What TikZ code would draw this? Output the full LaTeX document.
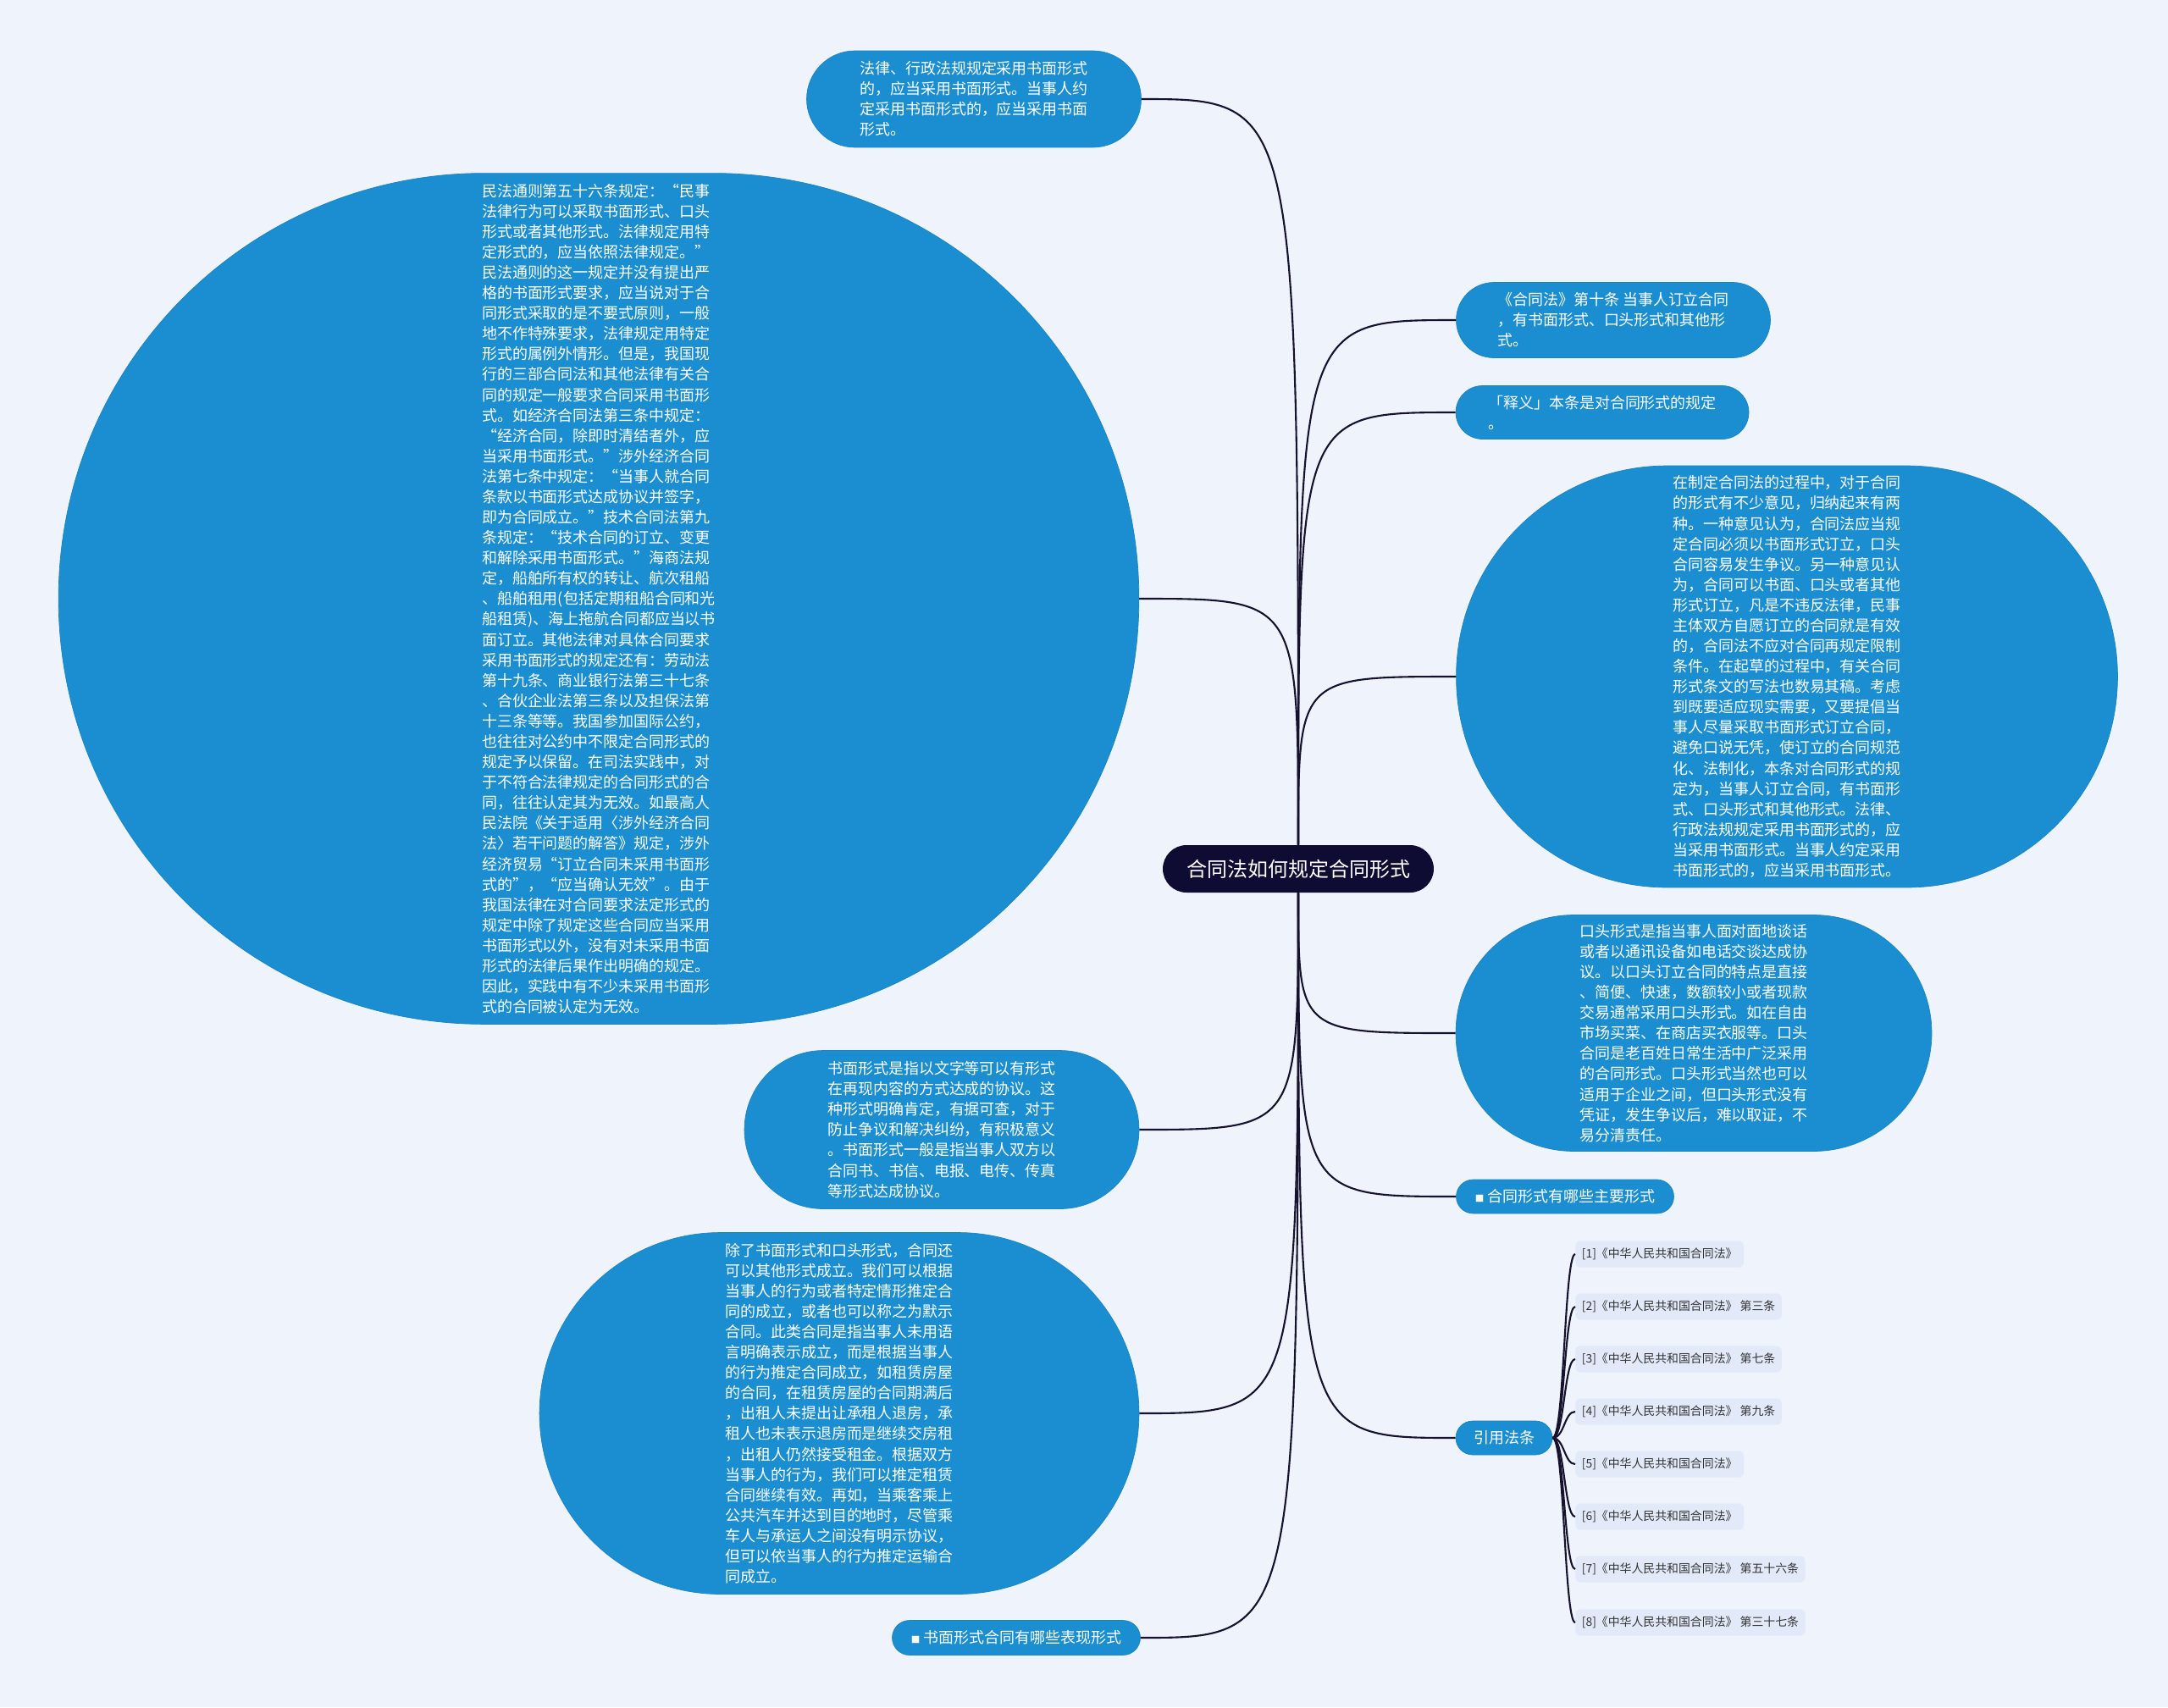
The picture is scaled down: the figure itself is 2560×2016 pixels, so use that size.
\documentclass[tikz,border=0pt]{standalone}
\usepackage{fontspec}
\newfontfamily\cjk{Noto Sans CJK SC}
\definecolor{bgblue}{HTML}{EEF3FC}
\definecolor{topicblue}{HTML}{1B8ED1}
\definecolor{topicedge}{HTML}{1A84C4}
\definecolor{rootnavy}{HTML}{0F0C33}
\definecolor{linkdark}{HTML}{16122E}
\definecolor{citefill}{HTML}{E2EAF9}
\definecolor{citetext}{HTML}{333333}

\begin{document}
\begin{tikzpicture}[x=0.02cm, y=-0.02cm,
    topic/.style={draw=topicedge, fill=topicblue, text=white, align=left, inner sep=0pt,
      font=\cjk\fontsize{10.24pt}{13.71pt}\selectfont},
    pill/.style={rounded corners=#1},
    link/.style={draw=linkdark, line width=1.2pt},
    cite/.style={fill=citefill, text=citetext, anchor=west, rounded corners=0.1cm,
      inner xsep=0.15cm, inner ysep=0pt, minimum height=0.62cm,
      font=\cjk\fontsize{7.9pt}{9pt}\selectfont}]

    % Page background
    \useasboundingbox (0,0) rectangle (2560,2016);
    \fill[bgblue] (0,0) rectangle (2560,2016);

    % Central topic
    \node[fill=rootnavy, text=white, minimum width=6.4cm, minimum height=1.12cm, pill=0.56cm,
          font=\cjk\fontsize{13.66pt}{16pt}\selectfont] (root) at (1533,1026) {合同法如何规定合同形式};

    % Left side, top: statutory written form
    \node[topic, minimum width=7.9cm, minimum height=2.28cm, pill=1.14cm] (law) at (1150,117)
        {法律、行政法规规定采用书面形式\\的，应当采用书面形式。当事人约\\定采用书面形式的，应当采用书面\\形式。};

    % Left side: the long commentary on the civil law rule
    \node[topic, minimum width=25.52cm, minimum height=20.1cm, pill=10.05cm] (civil) at (707,707)
        {民法通则第五十六条规定：“民事\\法律行为可以采取书面形式、口头\\形式或者其他形式。法律规定用特\\定形式的，应当依照法律规定。”\\民法通则的这一规定并没有提出严\\格的书面形式要求，应当说对于合\\同形式采取的是不要式原则，一般\\地不作特殊要求，法律规定用特定\\形式的属例外情形。但是，我国现\\行的三部合同法和其他法律有关合\\同的规定一般要求合同采用书面形\\式。如经济合同法第三条中规定：\\“经济合同，除即时清结者外，应\\当采用书面形式。”涉外经济合同\\法第七条中规定：“当事人就合同\\条款以书面形式达成协议并签字，\\即为合同成立。”技术合同法第九\\条规定：“技术合同的订立、变更\\和解除采用书面形式。”海商法规\\定，船舶所有权的转让、航次租船\\、船舶租用(包括定期租船合同和光\\船租赁)、海上拖航合同都应当以书\\面订立。其他法律对具体合同要求\\采用书面形式的规定还有：劳动法\\第十九条、商业银行法第三十七条\\、合伙企业法第三条以及担保法第\\十三条等等。我国参加国际公约，\\也往往对公约中不限定合同形式的\\规定予以保留。在司法实践中，对\\于不符合法律规定的合同形式的合\\同，往往认定其为无效。如最高人\\民法院《关于适用〈涉外经济合同\\法〉若干问题的解答》规定，涉外\\经济贸易“订立合同未采用书面形\\式的”，“应当确认无效”。由于\\我国法律在对合同要求法定形式的\\规定中除了规定这些合同应当采用\\书面形式以外，没有对未采用书面\\形式的法律后果作出明确的规定。\\因此，实践中有不少未采用书面形\\式的合同被认定为无效。};

    % Left side, lower: written form
    \node[topic, minimum width=9.32cm, minimum height=3.74cm, pill=1.87cm] (written) at (1112,1334)
        {书面形式是指以文字等可以有形式\\在再现内容的方式达成的协议。这\\种形式明确肯定，有据可查，对于\\防止争议和解决纠纷，有积极意义\\。书面形式一般是指当事人双方以\\合同书、书信、电报、电传、传真\\等形式达成协议。};

    % Left side, lower: other forms
    \node[topic, minimum width=14.16cm, minimum height=8.54cm, pill=4.27cm] (other) at (991,1669)
        {除了书面形式和口头形式，合同还\\可以其他形式成立。我们可以根据\\当事人的行为或者特定情形推定合\\同的成立，或者也可以称之为默示\\合同。此类合同是指当事人未用语\\言明确表示成立，而是根据当事人\\的行为推定合同成立，如租赁房屋\\的合同，在租赁房屋的合同期满后\\，出租人未提出让承租人退房，承\\租人也未表示退房而是继续交房租\\，出租人仍然接受租金。根据双方\\当事人的行为，我们可以推定租赁\\合同继续有效。再如，当乘客乘上\\公共汽车并达到目的地时，尽管乘\\车人与承运人之间没有明示协议，\\但可以依当事人的行为推定运输合\\同成立。};

    % Left side, bottom: link topic
    \node[topic, minimum width=5.86cm, minimum height=0.82cm, pill=0.41cm] (showform) at (1200,1934)
        {{\fontsize{6pt}{6pt}\selectfont ■}\ 书面形式合同有哪些表现形式};

    % Right side: article ten
    \node[topic, minimum width=7.42cm, minimum height=1.78cm, pill=0.89cm] (art) at (1905,378)
        {《合同法》第十条 当事人订立合同\\，有书面形式、口头形式和其他形\\式。};

    % Right side: interpretation
    \node[topic, minimum width=6.92cm, minimum height=1.26cm, pill=0.63cm] (note) at (1892,487)
        {「释义」本条是对合同形式的规定\\。};

    % Right side: drafting history
    \node[topic, minimum width=15.62cm, minimum height=9.96cm, pill=4.98cm] (draft) at (2110,799)
        {在制定合同法的过程中，对于合同\\的形式有不少意见，归纳起来有两\\种。一种意见认为，合同法应当规\\定合同必须以书面形式订立，口头\\合同容易发生争议。另一种意见认\\为，合同可以书面、口头或者其他\\形式订立，凡是不违反法律，民事\\主体双方自愿订立的合同就是有效\\的，合同法不应对合同再规定限制\\条件。在起草的过程中，有关合同\\形式条文的写法也数易其稿。考虑\\到既要适应现实需要，又要提倡当\\事人尽量采取书面形式订立合同，\\避免口说无凭，使订立的合同规范\\化、法制化，本条对合同形式的规\\定为，当事人订立合同，有书面形\\式、口头形式和其他形式。法律、\\行政法规规定采用书面形式的，应\\当采用书面形式。当事人约定采用\\书面形式的，应当采用书面形式。};

    % Right side: oral form
    \node[topic, minimum width=11.24cm, minimum height=5.58cm, pill=2.79cm] (oral) at (2000,1220)
        {口头形式是指当事人面对面地谈话\\或者以通讯设备如电话交谈达成协\\议。以口头订立合同的特点是直接\\、简便、快速，数额较小或者现款\\交易通常采用口头形式。如在自由\\市场买菜、在商店买衣服等。口头\\合同是老百姓日常生活中广泛采用\\的合同形式。口头形式当然也可以\\适用于企业之间，但口头形式没有\\凭证，发生争议后，难以取证，不\\易分清责任。};

    % Right side: link topic
    \node[topic, minimum width=5.14cm, minimum height=0.8cm, pill=0.4cm] (mainform) at (1848,1413)
        {{\fontsize{6pt}{6pt}\selectfont ■}\ 合同形式有哪些主要形式};

    % Right side: cited articles
    \node[topic, minimum width=2.28cm, minimum height=0.8cm, pill=0.4cm] (refs) at (1776,1698) {引用法条};

    \node[cite] (c1) at (1860,1481) {[1]《中华人民共和国合同法》};
    \node[cite] (c2) at (1860,1543) {[2]《中华人民共和国合同法》 第三条};
    \node[cite] (c3) at (1860,1605) {[3]《中华人民共和国合同法》 第七条};
    \node[cite] (c4) at (1860,1667) {[4]《中华人民共和国合同法》 第九条};
    \node[cite] (c5) at (1860,1729) {[5]《中华人民共和国合同法》};
    \node[cite] (c6) at (1860,1791) {[6]《中华人民共和国合同法》};
    \node[cite] (c7) at (1860,1853) {[7]《中华人民共和国合同法》 第五十六条};
    \node[cite] (c8) at (1860,1916) {[8]《中华人民共和国合同法》 第三十七条};

    % Branches above the root
    \draw[link] (root.north) .. controls (root.north |- law.east) .. (law.east);
    \draw[link] (root.north) .. controls (root.north |- civil.east) .. (civil.east);
    \draw[link] (root.north) .. controls (root.north |- art.west) .. (art.west);
    \draw[link] (root.north) .. controls (root.north |- note.west) .. (note.west);
    \draw[link] (root.north) .. controls (root.north |- draft.west) .. (draft.west);

    % Branches below the root
    \draw[link] (root.south) .. controls (root.south |- written.east) .. (written.east);
    \draw[link] (root.south) .. controls (root.south |- other.east) .. (other.east);
    \draw[link] (root.south) .. controls (root.south |- showform.east) .. (showform.east);
    \draw[link] (root.south) .. controls (root.south |- oral.west) .. (oral.west);
    \draw[link] (root.south) .. controls (root.south |- mainform.west) .. (mainform.west);
    \draw[link] (root.south) .. controls (root.south |- refs.west) .. (refs.west);

    % Cited articles fan
    \draw[link] (refs.east) .. controls +(14,0) and +(-13,0) .. (c1.west);
    \draw[link] (refs.east) .. controls +(14,0) and +(-13,0) .. (c2.west);
    \draw[link] (refs.east) .. controls +(14,0) and +(-13,0) .. (c3.west);
    \draw[link] (refs.east) .. controls +(14,0) and +(-13,0) .. (c4.west);
    \draw[link] (refs.east) .. controls +(14,0) and +(-13,0) .. (c5.west);
    \draw[link] (refs.east) .. controls +(14,0) and +(-13,0) .. (c6.west);
    \draw[link] (refs.east) .. controls +(14,0) and +(-13,0) .. (c7.west);
    \draw[link] (refs.east) .. controls +(14,0) and +(-13,0) .. (c8.west);

\end{tikzpicture}
\end{document}
